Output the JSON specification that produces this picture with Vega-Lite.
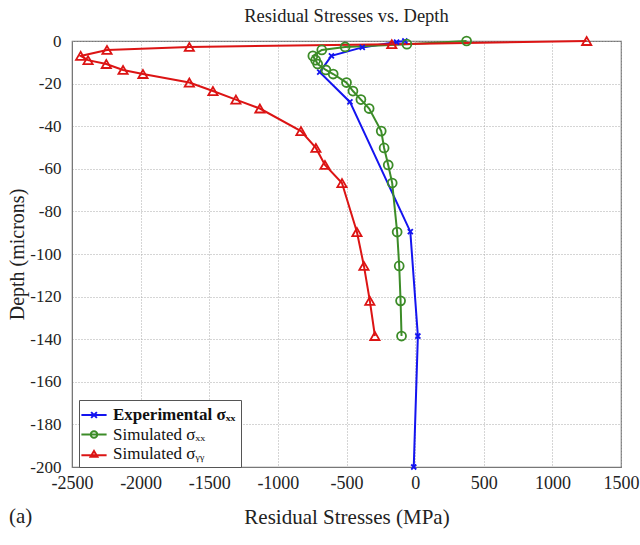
{
  "$schema": "https://vega.github.io/schema/vega-lite/v6.json",
  "width": 549,
  "height": 426,
  "autosize": {"type": "none"},
  "padding": {"left": 72, "top": 41, "right": 19, "bottom": 78},
  "background": "white",
  "title": {"text": "Residual Stresses vs. Depth", "font": "Liberation Serif", "fontSize": 18.5, "fontWeight": "normal", "color": "#222", "offset": 7},
  "config": {
    "font": "Liberation Serif",
    "view": {"stroke": "#777", "strokeWidth": 1.2},
    "axis": {
      "labelFont": "Liberation Serif", "labelFontSize": 18, "labelColor": "#222",
      "titleFont": "Liberation Serif", "titleFontSize": 21, "titleFontWeight": "normal", "titleColor": "#222",
      "gridColor": "#aaa", "gridDash": [1, 2], "gridWidth": 1,
      "domainColor": "#777", "ticks": false, "labelFlush": false,
      "labelExpr": "toString(datum.value)"
    }
  },
  "datasets": {
    "stress": [
    {"s": "Experimental", "i": 0, "x": -75, "y": 0},
    {"s": "Experimental", "i": 1, "x": -135, "y": -0.5},
    {"s": "Experimental", "i": 2, "x": -385, "y": -3},
    {"s": "Experimental", "i": 3, "x": -610, "y": -7},
    {"s": "Experimental", "i": 4, "x": -695, "y": -14.6},
    {"s": "Experimental", "i": 5, "x": -475, "y": -28.6},
    {"s": "Experimental", "i": 6, "x": -35, "y": -89.5},
    {"s": "Experimental", "i": 7, "x": 20, "y": -138.5},
    {"s": "Experimental", "i": 8, "x": -10, "y": -200},

    {"s": "Simulated xx", "i": 0, "x": 375, "y": 0},
    {"s": "Simulated xx", "i": 1, "x": -60, "y": -1.5},
    {"s": "Simulated xx", "i": 2, "x": -510, "y": -2.8},
    {"s": "Simulated xx", "i": 3, "x": -680, "y": -4.2},
    {"s": "Simulated xx", "i": 4, "x": -745, "y": -7},
    {"s": "Simulated xx", "i": 5, "x": -725, "y": -9},
    {"s": "Simulated xx", "i": 6, "x": -710, "y": -10.8},
    {"s": "Simulated xx", "i": 7, "x": -650, "y": -13.6},
    {"s": "Simulated xx", "i": 8, "x": -597, "y": -15.5},
    {"s": "Simulated xx", "i": 9, "x": -500, "y": -19.5},
    {"s": "Simulated xx", "i": 10, "x": -453, "y": -23.5},
    {"s": "Simulated xx", "i": 11, "x": -395, "y": -27.5},
    {"s": "Simulated xx", "i": 12, "x": -335, "y": -31.7},
    {"s": "Simulated xx", "i": 13, "x": -247, "y": -42.3},
    {"s": "Simulated xx", "i": 14, "x": -226, "y": -50.2},
    {"s": "Simulated xx", "i": 15, "x": -196, "y": -58.2},
    {"s": "Simulated xx", "i": 16, "x": -167, "y": -66.7},
    {"s": "Simulated xx", "i": 17, "x": -131, "y": -89.7},
    {"s": "Simulated xx", "i": 18, "x": -116, "y": -105.6},
    {"s": "Simulated xx", "i": 19, "x": -106, "y": -122},
    {"s": "Simulated xx", "i": 20, "x": -99, "y": -138.5},

    {"s": "Simulated yy", "i": 0, "x": 1250, "y": 0},
    {"s": "Simulated yy", "i": 1, "x": -170, "y": -1.5},
    {"s": "Simulated yy", "i": 2, "x": -1645, "y": -2.8},
    {"s": "Simulated yy", "i": 3, "x": -2245, "y": -4.2},
    {"s": "Simulated yy", "i": 4, "x": -2437, "y": -7},
    {"s": "Simulated yy", "i": 5, "x": -2383, "y": -9},
    {"s": "Simulated yy", "i": 6, "x": -2250, "y": -10.8},
    {"s": "Simulated yy", "i": 7, "x": -2128, "y": -13.6},
    {"s": "Simulated yy", "i": 8, "x": -1983, "y": -15.5},
    {"s": "Simulated yy", "i": 9, "x": -1645, "y": -19.5},
    {"s": "Simulated yy", "i": 10, "x": -1473, "y": -23.5},
    {"s": "Simulated yy", "i": 11, "x": -1306, "y": -27.5},
    {"s": "Simulated yy", "i": 12, "x": -1131, "y": -31.7},
    {"s": "Simulated yy", "i": 13, "x": -832, "y": -42.3},
    {"s": "Simulated yy", "i": 14, "x": -723, "y": -50.2},
    {"s": "Simulated yy", "i": 15, "x": -657, "y": -58.2},
    {"s": "Simulated yy", "i": 16, "x": -533, "y": -66.7},
    {"s": "Simulated yy", "i": 17, "x": -424, "y": -89.7},
    {"s": "Simulated yy", "i": 18, "x": -373, "y": -105.6},
    {"s": "Simulated yy", "i": 19, "x": -330, "y": -122},
    {"s": "Simulated yy", "i": 20, "x": -293, "y": -138.5}
    ],
    "note": [{"label": "(a)"}]
  },
  "data": {"name": "stress"},
  "layer": [
    {
      "mark": {"type": "line", "strokeWidth": 2},
      "encoding": {
        "x": {"field": "x", "type": "quantitative",
          "scale": {"domain": [-2500, 1500], "nice": false, "zero": false},
          "axis": {"title": "Residual Stresses (MPa)", "values": [-2500, -2000, -1500, -1000, -500, 0, 500, 1000, 1500], "labelPadding": 7, "titlePadding": 14}},
        "y": {"field": "y", "type": "quantitative",
          "scale": {"domain": [-200, 0], "nice": false, "zero": false},
          "axis": {"title": "Depth (microns)", "titleFontSize": 20, "labelFontSize": 17, "values": [0, -20, -40, -60, -80, -100, -120, -140, -160, -180, -200], "labelPadding": 11, "titlePadding": 2}},
        "order": {"field": "i", "type": "quantitative"},
        "color": {"field": "s", "type": "nominal",
          "scale": {"domain": ["Experimental", "Simulated xx", "Simulated yy"], "range": ["#1414f0", "#3c8c28", "#dc1414"]},
          "legend": {
            "title": null, "orient": "none", "legendX": 7, "legendY": 359,
            "strokeColor": "#555", "fillColor": "white", "padding": 5, "rowPadding": 1.5,
            "labelFont": "Liberation Serif", "labelFontSize": 17, "labelColor": "#111", "labelOffset": 9,
            "symbolSize": 324, "symbolStrokeWidth": 2, "symbolType": "M-1,0L1,0",
            "labelExpr": "datum.value === 'Experimental' ? 'Experimental σₓₓ' : datum.value === 'Simulated xx' ? 'Simulated σₓₓ' : 'Simulated σᵧᵧ'",
            "encode": {
              "symbols": {"update": {
                "shape": {"signal": "datum.value === 'Experimental' ? 'M-1.4,0L1.4,0M-0.32,-0.32L0.32,0.32M0.32,-0.32L-0.32,0.32' : datum.value === 'Simulated xx' ? 'M-1.4,0L1.4,0M-0.36,0A0.36,0.36 0 1,0 0.36,0A0.36,0.36 0 1,0 -0.36,0' : 'M-1.4,0.14L1.4,0.14M0,-0.34L0.38,0.3L-0.38,0.3Z'"},
                "fill": {"value": "transparent"},
                "strokeWidth": {"value": 2}
              }},
              "labels": {"update": {"fontWeight": {"signal": "datum.index === 0 ? 'bold' : 'normal'"}}}
            }
          }}
      }
    },
    {
      "transform": [{"filter": "datum.s === 'Experimental'"}],
      "mark": {"type": "point", "filled": false, "strokeWidth": 1.8, "size": 70, "opacity": 1, "color": "#1414f0", "shape": "M-0.6,-0.6L0.6,0.6M0.6,-0.6L-0.6,0.6"},
      "encoding": {"x": {"field": "x", "type": "quantitative"}, "y": {"field": "y", "type": "quantitative"}}
    },
    {
      "transform": [{"filter": "datum.s === 'Simulated xx'"}],
      "mark": {"type": "point", "filled": false, "strokeWidth": 1.8, "size": 80, "opacity": 1, "color": "#3c8c28", "shape": "circle"},
      "encoding": {"x": {"field": "x", "type": "quantitative"}, "y": {"field": "y", "type": "quantitative"}}
    },
    {
      "transform": [{"filter": "datum.s === 'Simulated yy'"}],
      "mark": {"type": "point", "filled": false, "strokeWidth": 1.8, "size": 85, "opacity": 1, "color": "#dc1414", "shape": "triangle-up"},
      "encoding": {"x": {"field": "x", "type": "quantitative"}, "y": {"field": "y", "type": "quantitative"}}
    },
    {
      "data": {"name": "note"},
      "mark": {"type": "text", "align": "left", "baseline": "middle", "font": "Liberation Serif", "fontSize": 21, "color": "#222", "clip": false},
      "encoding": {
        "x": {"datum": -2959, "type": "quantitative"},
        "y": {"datum": -223.5, "type": "quantitative"},
        "text": {"field": "label", "type": "nominal"}
      }
    }
  ]
}
